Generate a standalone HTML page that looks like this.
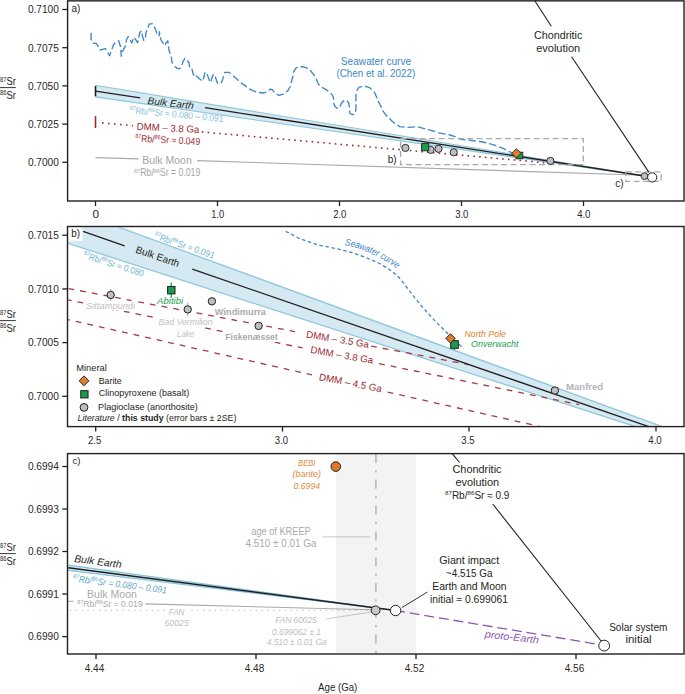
<!DOCTYPE html>
<html><head><meta charset="utf-8"><style>
html,body{margin:0;padding:0;background:#fff;}
svg{display:block;}
svg text{font-family:"Liberation Sans", sans-serif;}
</style></head><body>
<svg width="685" height="694" viewBox="0 0 685 694">
<rect width="685" height="694" fill="#fff"/>
<polygon points="95.10,85.30 644.50,176.00 95.10,96.90" fill="#d4e9f2" stroke="none" stroke-width="0"/>
<line x1="95.10" y1="85.30" x2="644.50" y2="176.00" stroke="#8cc6dc" stroke-width="1.1"/>
<line x1="95.10" y1="96.90" x2="644.50" y2="176.00" stroke="#8cc6dc" stroke-width="1.1"/>
<line x1="95.50" y1="157.60" x2="138.70" y2="158.90" stroke="#a7a9ac" stroke-width="1.1"/>
<line x1="197.10" y1="160.60" x2="644.00" y2="175.30" stroke="#a7a9ac" stroke-width="1.1"/>
<line x1="102" y1="122.9" x2="133" y2="125.7" stroke="#9d2a2f" stroke-width="1.6" stroke-dasharray="1.6 4.4"/>
<line x1="201.8" y1="131.9" x2="553" y2="163.4" stroke="#9d2a2f" stroke-width="1.6" stroke-dasharray="1.6 4.2"/>
<line x1="95.50" y1="116.20" x2="95.50" y2="128.00" stroke="#9d2a2f" stroke-width="1.6"/>
<line x1="95.50" y1="91.20" x2="140.20" y2="97.90" stroke="#231f20" stroke-width="1.3"/>
<line x1="205.00" y1="107.60" x2="644.50" y2="176.00" stroke="#231f20" stroke-width="1.3"/>
<line x1="95.50" y1="86.00" x2="95.50" y2="96.30" stroke="#231f20" stroke-width="1.6"/>
<polyline points="91.1,33.0 91.1,39.5 93.3,43.2 96.4,43.5 98.1,46.5 99.9,50.0 103.4,49.2 105.6,48.7 107.3,51.8 109.5,55.7 111.3,50.9 113.5,44.8 115.6,42.3 118.7,40.8 119.4,43.0 120.5,46.5 120.9,50.9 121.3,56.2 121.8,51.8 123.1,50.5 125.3,46.1 126.6,39.5 128.3,36.5 130.1,40.0 131.8,43.0 132.7,40.4 134.0,37.3 136.2,40.4 137.5,42.6 138.1,41.3 139.8,32.5 141.6,30.8 142.4,36.0 143.8,40.4 145.5,38.2 145.9,32.5 147.7,28.6 149.4,23.8 152.5,23.8 153.8,25.5 156.0,30.8 157.3,35.6 159.1,35.6 159.5,31.6 159.8,36.0 161.3,40.4 163.0,43.0 164.8,45.6 166.1,43.0 167.8,40.8 168.3,43.9 169.1,50.8 170.3,53.8 171.4,57.8 172.0,62.5 174.3,66.0 177.3,68.4 179.6,68.9 181.4,66.6 183.1,61.4 184.9,58.4 186.6,60.2 188.9,62.5 189.5,66.6 191.3,66.6 192.4,70.7 193.0,73.6 194.8,77.1 196.5,76.0 198.9,78.3 202.4,81.2 204.1,76.5 204.7,73.0 206.5,72.1 207.6,75.4 208.8,78.9 210.0,82.4 211.1,81.2 211.7,78.3 213.5,74.2 215.2,76.5 216.4,80.0 217.6,83.5 221.6,82.4 222.8,78.9 224.6,72.4 229.2,72.4 232.7,75.4 237.4,79.5 240.3,82.4 244.7,85.4 249.3,88.9 252.8,90.6 257.5,92.4 263.9,93.0 268.0,91.2 270.4,89.1 272.7,90.0 275.0,93.5 279.1,95.3 283.2,94.1 287.9,90.6 290.2,86.5 292.0,79.5 293.1,76.0 293.7,71.4 296.1,67.8 300.7,66.7 302.5,66.7 306.6,67.8 310.1,70.2 314.2,75.4 316.5,79.5 318.5,84.3 322.0,87.3 326.1,89.6 330.2,92.5 332.5,95.4 333.5,97.8 333.5,102.4 334.9,106.5 337.2,108.3 339.5,107.7 341.9,102.4 344.8,100.1 347.7,101.3 348.9,103.6 349.5,108.3 350.0,113.5 352.4,114.7 354.7,114.1 355.9,109.5 355.9,104.2 355.9,98.9 355.9,95.4 356.5,91.4 358.8,87.3 361.7,86.7 365.8,86.4 369.9,87.8 374.6,92.5 376.3,96.6 378.6,101.9 381.0,106.5 382.7,110.6 386.2,115.3 389.7,118.8 392.7,121.7 399.7,126.7 408.5,127.4 417.2,126.7 428.2,129.6 439.1,132.8 450.0,135.0 456.6,137.2 461.0,139.4 472.0,140.5 482.9,142.0 493.9,144.9 502.6,148.2 511.4,152.6 515.0,154.0" fill="none" stroke="#3b87c8" stroke-width="1.35" stroke-dasharray="7.5 3" stroke-linejoin="round"/>
<rect x="400.6" y="138.7" width="182.7" height="26" fill="none" stroke="#a7a9ac" stroke-width="1.3" stroke-dasharray="6 3.5"/>
<rect x="625.8" y="171.8" width="35.4" height="9.6" fill="none" stroke="#a7a9ac" stroke-width="1.3" stroke-dasharray="6 3.5"/>
<line x1="534.60" y1="0.50" x2="551.30" y2="26.20" stroke="#231f20" stroke-width="1.1"/>
<line x1="571.60" y1="56.70" x2="648.80" y2="172.10" stroke="#231f20" stroke-width="1.1"/>
<circle cx="405.4" cy="147.9" r="3.6" fill="#bcbec0" stroke="#231f20" stroke-width="0.9"/>
<circle cx="430.6" cy="149.9" r="3.6" fill="#bcbec0" stroke="#231f20" stroke-width="0.9"/>
<circle cx="438.5" cy="148.8" r="3.6" fill="#bcbec0" stroke="#231f20" stroke-width="0.9"/>
<circle cx="453.7" cy="152.3" r="3.6" fill="#bcbec0" stroke="#231f20" stroke-width="0.9"/>
<circle cx="550.4" cy="160.9" r="3.6" fill="#bcbec0" stroke="#231f20" stroke-width="0.9"/>
<rect x="421.59" y="143.60" width="7.2" height="7.2" fill="#1b9e4b" stroke="#231f20" stroke-width="0.9"/>
<rect x="516.20" y="152.20" width="6.6" height="6.6" fill="#1b9e4b" stroke="#231f20" stroke-width="0.9"/>
<polygon points="516.40,148.70 521.10,153.40 516.40,158.10 511.70,153.40" fill="#e07f2b" stroke="#231f20" stroke-width="0.9"/>
<circle cx="644.5" cy="176.1" r="3.4" fill="#bcbec0" stroke="#231f20" stroke-width="0.9"/>
<circle cx="652.2" cy="177.4" r="4.6" fill="#fff" stroke="#231f20" stroke-width="1"/>
<text x="71.5" y="11.8" font-size="10" fill="#231f20">a)</text>
<text x="558.2" y="38.7" font-size="10.4" text-anchor="middle" fill="#231f20" textLength="48.2" lengthAdjust="spacingAndGlyphs">Chondritic</text>
<text x="558.2" y="51.5" font-size="10.4" text-anchor="middle" fill="#231f20" textLength="44" lengthAdjust="spacingAndGlyphs">evolution</text>
<text x="376" y="64.9" font-size="10.2" text-anchor="middle" fill="#3b87c8" textLength="70.3" lengthAdjust="spacingAndGlyphs">Seawater curve</text>
<text x="375.8" y="77.4" font-size="10.2" text-anchor="middle" fill="#3b87c8" textLength="78.8" lengthAdjust="spacingAndGlyphs">(Chen et al. 2022)</text>
<text x="170.3" y="106.5" font-size="10" text-anchor="middle" fill="#231f20" font-style="italic" transform="rotate(6.4 170.3 106.5)" textLength="46.2" lengthAdjust="spacingAndGlyphs">Bulk Earth</text>
<text x="176.3" y="117.6" font-size="9.4" text-anchor="middle" fill="#86c0d8" transform="rotate(5.4 176.3 117.6)" textLength="94" lengthAdjust="spacingAndGlyphs"><tspan font-size="5.83" dy="-3.38">87</tspan><tspan dy="3.38">Rb/</tspan><tspan font-size="5.83" dy="-3.38">86</tspan><tspan dy="3.38">Sr ≈ 0.080 – 0.091</tspan></text>
<text x="167.8" y="131.4" font-size="10" text-anchor="middle" fill="#9d2a2f" transform="rotate(3 167.8 131.4)" textLength="62.8" lengthAdjust="spacingAndGlyphs">DMM – 3.8 Ga</text>
<text x="167.5" y="143.3" font-size="10" text-anchor="middle" fill="#9d2a2f" transform="rotate(2.8 167.5 143.3)" textLength="65" lengthAdjust="spacingAndGlyphs"><tspan font-size="6.2" dy="-3.6">87</tspan><tspan dy="3.6">Rb/</tspan><tspan font-size="6.2" dy="-3.6">86</tspan><tspan dy="3.6">Sr ≈ 0.049</tspan></text>
<text x="167" y="164" font-size="10.4" text-anchor="middle" fill="#a3a5a8" textLength="49.6" lengthAdjust="spacingAndGlyphs">Bulk Moon</text>
<text x="167.3" y="176.4" font-size="10" text-anchor="middle" fill="#a3a5a8" textLength="66" lengthAdjust="spacingAndGlyphs"><tspan font-size="6.2" dy="-3.6">87</tspan><tspan dy="3.6">Rb/</tspan><tspan font-size="6.2" dy="-3.6">86</tspan><tspan dy="3.6">Sr = 0.019</tspan></text>
<text x="387.8" y="163.3" font-size="10" fill="#231f20">b)</text>
<text x="615.2" y="186.8" font-size="10" fill="#231f20">c)</text>
<rect x="67.6" y="0.85" width="616.4" height="200.15" fill="none" stroke="#231f20" stroke-width="1.4"/>
<line x1="62.30" y1="9.50" x2="67.50" y2="9.50" stroke="#231f20" stroke-width="1.3"/>
<text x="58.9" y="13.3" font-size="11.2" text-anchor="end" fill="#2b2829" textLength="31" lengthAdjust="spacingAndGlyphs">0.7100</text>
<line x1="62.30" y1="47.70" x2="67.50" y2="47.70" stroke="#231f20" stroke-width="1.3"/>
<text x="58.9" y="51.5" font-size="11.2" text-anchor="end" fill="#2b2829" textLength="31" lengthAdjust="spacingAndGlyphs">0.7075</text>
<line x1="62.30" y1="85.90" x2="67.50" y2="85.90" stroke="#231f20" stroke-width="1.3"/>
<text x="58.9" y="89.7" font-size="11.2" text-anchor="end" fill="#2b2829" textLength="31" lengthAdjust="spacingAndGlyphs">0.7050</text>
<line x1="62.30" y1="124.10" x2="67.50" y2="124.10" stroke="#231f20" stroke-width="1.3"/>
<text x="58.9" y="127.89999999999999" font-size="11.2" text-anchor="end" fill="#2b2829" textLength="31" lengthAdjust="spacingAndGlyphs">0.7025</text>
<line x1="62.30" y1="162.30" x2="67.50" y2="162.30" stroke="#231f20" stroke-width="1.3"/>
<text x="58.9" y="166.10000000000002" font-size="11.2" text-anchor="end" fill="#2b2829" textLength="31" lengthAdjust="spacingAndGlyphs">0.7000</text>
<line x1="95.50" y1="201.00" x2="95.50" y2="206.00" stroke="#231f20" stroke-width="1.3"/>
<text x="95.8" y="218" font-size="11.2" text-anchor="middle" fill="#2b2829" textLength="6.6" lengthAdjust="spacingAndGlyphs">0</text>
<line x1="217.50" y1="201.00" x2="217.50" y2="206.00" stroke="#231f20" stroke-width="1.3"/>
<text x="217.8" y="218" font-size="11.2" text-anchor="middle" fill="#2b2829" textLength="13" lengthAdjust="spacingAndGlyphs">1.0</text>
<line x1="339.50" y1="201.00" x2="339.50" y2="206.00" stroke="#231f20" stroke-width="1.3"/>
<text x="339.8" y="218" font-size="11.2" text-anchor="middle" fill="#2b2829" textLength="13.3" lengthAdjust="spacingAndGlyphs">2.0</text>
<line x1="461.50" y1="201.00" x2="461.50" y2="206.00" stroke="#231f20" stroke-width="1.3"/>
<text x="461.8" y="218" font-size="11.2" text-anchor="middle" fill="#2b2829" textLength="13.3" lengthAdjust="spacingAndGlyphs">3.0</text>
<line x1="583.50" y1="201.00" x2="583.50" y2="206.00" stroke="#231f20" stroke-width="1.3"/>
<text x="583.8" y="218" font-size="11.2" text-anchor="middle" fill="#2b2829" textLength="13.3" lengthAdjust="spacingAndGlyphs">4.0</text>
<text x="0" y="85.39999999999999" font-size="10.6" fill="#231f20" textLength="15.9" lengthAdjust="spacingAndGlyphs"><tspan font-size="6.6" dy="-3.7">87</tspan><tspan dy="3.7">Sr</tspan></text>
<line x1="0.00" y1="87.60" x2="15.80" y2="87.60" stroke="#231f20" stroke-width="0.9"/>
<text x="0" y="98.69999999999999" font-size="10.6" fill="#231f20" textLength="15.9" lengthAdjust="spacingAndGlyphs"><tspan font-size="6.6" dy="-3.7">86</tspan><tspan dy="3.7">Sr</tspan></text>
<clipPath id="cb"><rect x="68.2" y="227.2" width="615.1" height="198.7"/></clipPath>
<g clip-path="url(#cb)">
<polygon points="60.00,205.58 700.00,440.46 700.00,447.45 60.00,240.73" fill="#d4e9f2" stroke="none" stroke-width="0"/>
<line x1="60.00" y1="205.58" x2="700.00" y2="440.46" stroke="#8cc6dc" stroke-width="1.25"/>
<line x1="60.00" y1="240.73" x2="700.00" y2="447.45" stroke="#8cc6dc" stroke-width="1.25"/>
</g>
<rect x="68.2" y="227.2" width="14.3" height="13.6" fill="#fff"/>
<text x="71.2" y="237.0" font-size="10" fill="#231f20">b)</text>
<line x1="68.2" y1="288.49" x2="295" y2="331.58" stroke="#a53a3f" stroke-width="1.3" stroke-dasharray="5.8 6.05" stroke-dashoffset="11.58"/>
<line x1="369" y1="345.64" x2="468.5" y2="364.54" stroke="#a53a3f" stroke-width="1.3" stroke-dasharray="5.8 6.05" stroke-dashoffset="9.71"/>
<line x1="68.2" y1="299.88" x2="302.5" y2="347.91" stroke="#a53a3f" stroke-width="1.3" stroke-dasharray="5.8 6.04" stroke-dashoffset="2.35"/>
<line x1="375" y1="362.77" x2="579" y2="404.59" stroke="#a53a3f" stroke-width="1.3" stroke-dasharray="5.8 6.04" stroke-dashoffset="7.66"/>
<line x1="68.2" y1="319.66" x2="312" y2="374.91" stroke="#a53a3f" stroke-width="1.3" stroke-dasharray="5.8 6.04" stroke-dashoffset="4.05"/>
<line x1="383" y1="391.00" x2="539.5" y2="426.46" stroke="#a53a3f" stroke-width="1.3" stroke-dasharray="5.8 6.04" stroke-dashoffset="7.07"/>
<line x1="83.10" y1="231.42" x2="124.70" y2="245.77" stroke="#231f20" stroke-width="1.3"/>
<line x1="192.30" y1="269.09" x2="648.80" y2="426.59" stroke="#231f20" stroke-width="1.3"/>
<polyline points="285.7,231.3 299.0,238.3 318.0,245.0 337.0,248.8 352.1,252.6 365.4,257.3 378.7,263.0 388.2,268.7 395.8,274.4 399.6,278.2 410.1,291.7 421.8,306.3 433.5,319.4 445.2,331.1 449.6,335.5 455.0,341.0 463.8,348.2" fill="none" stroke="#3b87c8" stroke-width="1.3" stroke-dasharray="3.5 2.6"/>
<text x="156.5" y="259.8" font-size="10" text-anchor="middle" fill="#231f20" transform="rotate(18.8 156.5 259.8)" textLength="45.5" lengthAdjust="spacingAndGlyphs">Bulk Earth</text>
<text x="183.5" y="248.5" font-size="9.4" text-anchor="middle" fill="#74b4d2" transform="rotate(18.9 183.5 248.5)" textLength="63" lengthAdjust="spacingAndGlyphs"><tspan font-size="5.83" dy="-3.38">87</tspan><tspan dy="3.38">Rb/</tspan><tspan font-size="5.83" dy="-3.38">86</tspan><tspan dy="3.38">Sr ≈ 0.091</tspan></text>
<text x="112.8" y="267.3" font-size="9.4" text-anchor="middle" fill="#74b4d2" transform="rotate(17.9 112.8 267.3)" textLength="63" lengthAdjust="spacingAndGlyphs"><tspan font-size="5.83" dy="-3.38">87</tspan><tspan dy="3.38">Rb/</tspan><tspan font-size="5.83" dy="-3.38">86</tspan><tspan dy="3.38">Sr ≈ 0.080</tspan></text>
<path id="swp" d="M 344.5 245 Q 373 250.5 399.5 270.5" fill="none"/>
<text font-size="9.6" font-style="italic" fill="#3b87c8"><textPath href="#swp" textLength="58" lengthAdjust="spacingAndGlyphs">Seawater curve</textPath></text>
<text x="337" y="342.6" font-size="9.8" text-anchor="middle" fill="#9d2a2f" transform="rotate(9.4 337 342.6)" textLength="63.5" lengthAdjust="spacingAndGlyphs">DMM – 3.5 Ga</text>
<text x="341.3" y="358.3" font-size="9.8" text-anchor="middle" fill="#9d2a2f" transform="rotate(10 341.3 358.3)" textLength="63.5" lengthAdjust="spacingAndGlyphs">DMM – 3.8 Ga</text>
<text x="349.8" y="386.1" font-size="9.8" text-anchor="middle" fill="#9d2a2f" transform="rotate(11.2 349.8 386.1)" textLength="64" lengthAdjust="spacingAndGlyphs">DMM – 4.5 Ga</text>
<text x="86.1" y="308.6" font-size="9.6" fill="#c0c2c4" font-style="italic" textLength="49" lengthAdjust="spacingAndGlyphs" stroke="#fff" stroke-width="3.5" paint-order="stroke" stroke-linejoin="round">Sittampundi</text>
<rect x="158" y="317" width="55" height="10" fill="#fff"/>
<text x="158.5" y="325.2" font-size="9.6" fill="#c0c2c4" font-style="italic" textLength="54" lengthAdjust="spacingAndGlyphs" stroke="#fff" stroke-width="4.5" paint-order="stroke" stroke-linejoin="round">Bad Vermilion</text>
<text x="185.6" y="337.3" font-size="9.6" text-anchor="middle" fill="#c0c2c4" font-style="italic" textLength="17" lengthAdjust="spacingAndGlyphs" stroke="#fff" stroke-width="3.5" paint-order="stroke" stroke-linejoin="round">Lake</text>
<text x="214.8" y="315" font-size="9.4" fill="#a8aaad" font-weight="bold" textLength="51.2" lengthAdjust="spacingAndGlyphs" stroke="#fff" stroke-width="3.5" paint-order="stroke" stroke-linejoin="round">Windimurra</text>
<text x="225.3" y="339.6" font-size="9.4" fill="#a8aaad" font-weight="bold" textLength="52.4" lengthAdjust="spacingAndGlyphs" stroke="#fff" stroke-width="4" paint-order="stroke" stroke-linejoin="round">Fiskenæsset</text>
<text x="566" y="389.6" font-size="9.4" fill="#b3b5b7" font-weight="bold" textLength="37.2" lengthAdjust="spacingAndGlyphs">Manfred</text>
<text x="157.1" y="304.2" font-size="9.6" fill="#1b9e4b" font-style="italic" textLength="26" lengthAdjust="spacingAndGlyphs" stroke="#fff" stroke-width="2" paint-order="stroke" stroke-linejoin="round">Abitibi</text>
<text x="464.4" y="337" font-size="9.6" fill="#e07f2b" font-style="italic" textLength="41.6" lengthAdjust="spacingAndGlyphs">North Pole</text>
<text x="471.1" y="346.6" font-size="9.6" fill="#1b9e4b" font-style="italic" textLength="47.4" lengthAdjust="spacingAndGlyphs">Onverwacht</text>
<line x1="110.70" y1="289.10" x2="110.70" y2="300.70" stroke="#b5b7b9" stroke-width="1.3"/>
<circle cx="110.7" cy="294.9" r="3.7" fill="#bcbec0" stroke="#231f20" stroke-width="1"/>
<line x1="187.70" y1="302.80" x2="187.70" y2="315.90" stroke="#b5b7b9" stroke-width="1.3"/>
<circle cx="187.7" cy="309.4" r="3.7" fill="#bcbec0" stroke="#231f20" stroke-width="1"/>
<circle cx="211.9" cy="301.3" r="3.7" fill="#bcbec0" stroke="#231f20" stroke-width="1"/>
<circle cx="258.6" cy="325.9" r="3.7" fill="#bcbec0" stroke="#231f20" stroke-width="1"/>
<circle cx="554.9" cy="390.5" r="3.7" fill="#bcbec0" stroke="#231f20" stroke-width="1"/>
<line x1="171.30" y1="282.60" x2="171.30" y2="297.50" stroke="#1b9e4b" stroke-width="1.3"/>
<rect x="167.60" y="286.50" width="7.4" height="7.4" fill="#1b9e4b" stroke="#231f20" stroke-width="1"/>
<line x1="454.50" y1="341.00" x2="454.50" y2="350.30" stroke="#1b9e4b" stroke-width="1.3"/>
<rect x="450.70" y="340.70" width="7.6" height="7.6" fill="#1b9e4b" stroke="#231f20" stroke-width="1"/>
<polygon points="450.50,333.70 455.20,338.40 450.50,343.10 445.80,338.40" fill="#e07f2b" stroke="#231f20" stroke-width="1"/>
<text x="76.2" y="370.6" font-size="9.6" fill="#231f20" textLength="30.6" lengthAdjust="spacingAndGlyphs">Mineral</text>
<polygon points="84.00,375.90 88.90,380.80 84.00,385.70 79.10,380.80" fill="#e07f2b" stroke="#231f20" stroke-width="1"/>
<text x="98.7" y="383.5" font-size="9.6" fill="#231f20" textLength="23" lengthAdjust="spacingAndGlyphs">Barite</text>
<rect x="80.75" y="390.65" width="7.3" height="7.3" fill="#1b9e4b" stroke="#231f20" stroke-width="1"/>
<text x="98.7" y="396.4" font-size="9.6" fill="#231f20" textLength="90.5" lengthAdjust="spacingAndGlyphs">Clinopyroxene (basalt)</text>
<circle cx="84" cy="407.4" r="3.9" fill="#bcbec0" stroke="#231f20" stroke-width="1"/>
<text x="98.1" y="409.7" font-size="9.6" fill="#231f20" textLength="99.8" lengthAdjust="spacingAndGlyphs">Plagioclase (anorthosite)</text>
<text x="77.6" y="421.3" font-size="9.6" fill="#231f20" textLength="158.8" lengthAdjust="spacingAndGlyphs"><tspan font-style="italic">Literature</tspan> / <tspan font-weight="bold">this study</tspan> (error bars ± 2SE)</text>
<rect x="67.5" y="226.5" width="616.5" height="200.10000000000002" fill="none" stroke="#231f20" stroke-width="1.4"/>
<line x1="62.30" y1="235.20" x2="67.50" y2="235.20" stroke="#231f20" stroke-width="1.3"/>
<text x="58.9" y="239.0" font-size="11.2" text-anchor="end" fill="#2b2829" textLength="31" lengthAdjust="spacingAndGlyphs">0.7015</text>
<line x1="62.30" y1="288.90" x2="67.50" y2="288.90" stroke="#231f20" stroke-width="1.3"/>
<text x="58.9" y="292.7" font-size="11.2" text-anchor="end" fill="#2b2829" textLength="31" lengthAdjust="spacingAndGlyphs">0.7010</text>
<line x1="62.30" y1="342.60" x2="67.50" y2="342.60" stroke="#231f20" stroke-width="1.3"/>
<text x="58.9" y="346.40000000000003" font-size="11.2" text-anchor="end" fill="#2b2829" textLength="31" lengthAdjust="spacingAndGlyphs">0.7005</text>
<line x1="62.30" y1="396.30" x2="67.50" y2="396.30" stroke="#231f20" stroke-width="1.3"/>
<text x="58.9" y="400.1" font-size="11.2" text-anchor="end" fill="#2b2829" textLength="31" lengthAdjust="spacingAndGlyphs">0.7000</text>
<line x1="95.70" y1="426.60" x2="95.70" y2="431.60" stroke="#231f20" stroke-width="1.3"/>
<text x="94.7" y="443.7" font-size="11.2" text-anchor="middle" fill="#2b2829" textLength="13.3" lengthAdjust="spacingAndGlyphs">2.5</text>
<line x1="282.50" y1="426.60" x2="282.50" y2="431.60" stroke="#231f20" stroke-width="1.3"/>
<text x="281.5" y="443.7" font-size="11.2" text-anchor="middle" fill="#2b2829" textLength="13.3" lengthAdjust="spacingAndGlyphs">3.0</text>
<line x1="469.00" y1="426.60" x2="469.00" y2="431.60" stroke="#231f20" stroke-width="1.3"/>
<text x="468" y="443.7" font-size="11.2" text-anchor="middle" fill="#2b2829" textLength="13.3" lengthAdjust="spacingAndGlyphs">3.5</text>
<line x1="656.00" y1="426.60" x2="656.00" y2="431.60" stroke="#231f20" stroke-width="1.3"/>
<text x="655" y="443.7" font-size="11.2" text-anchor="middle" fill="#2b2829" textLength="13.3" lengthAdjust="spacingAndGlyphs">4.0</text>
<text x="0" y="318.40000000000003" font-size="10.6" fill="#231f20" textLength="15.9" lengthAdjust="spacingAndGlyphs"><tspan font-size="6.6" dy="-3.7">87</tspan><tspan dy="3.7">Sr</tspan></text>
<line x1="0.00" y1="320.60" x2="15.80" y2="320.60" stroke="#231f20" stroke-width="0.9"/>
<text x="0" y="331.70000000000005" font-size="10.6" fill="#231f20" textLength="15.9" lengthAdjust="spacingAndGlyphs"><tspan font-size="6.6" dy="-3.7">86</tspan><tspan dy="3.7">Sr</tspan></text>
<rect x="336" y="454.3" width="80" height="199" fill="#f3f3f3"/>
<line x1="375.9" y1="454" x2="375.9" y2="653.5" stroke="#bdbfc1" stroke-width="1.8" stroke-dasharray="9 7.2 2.3 7.3"/>
<line x1="70" y1="610.4" x2="167" y2="610.4" stroke="#c2c4c6" stroke-width="1.2" stroke-dasharray="1.2 4.64"/>
<line x1="191.5" y1="610.4" x2="370" y2="610.4" stroke="#c2c4c6" stroke-width="1.2" stroke-dasharray="1.2 4.64"/>
<polygon points="68.20,565.10 395.60,610.50 68.20,570.40" fill="#d4e9f2" stroke="none" stroke-width="0"/>
<line x1="68.20" y1="565.10" x2="395.60" y2="610.50" stroke="#86c3dc" stroke-width="1.1"/>
<line x1="68.20" y1="570.40" x2="395.60" y2="610.50" stroke="#86c3dc" stroke-width="1.1"/>
<line x1="68.20" y1="601.20" x2="73.60" y2="601.30" stroke="#a7a9ac" stroke-width="1.1"/>
<line x1="145.30" y1="603.90" x2="372.00" y2="609.80" stroke="#a7a9ac" stroke-width="1.1"/>
<line x1="68.20" y1="567.80" x2="395.60" y2="610.50" stroke="#231f20" stroke-width="1.4"/>
<line x1="401" y1="611.5" x2="598.5" y2="644.4" stroke="#8b55b3" stroke-width="1.3" stroke-dasharray="10 4.8" stroke-dashoffset="6"/>
<line x1="452.30" y1="453.60" x2="459.50" y2="462.50" stroke="#231f20" stroke-width="1.1"/>
<line x1="492.70" y1="504.00" x2="601.50" y2="641.50" stroke="#231f20" stroke-width="1.1"/>
<line x1="402.00" y1="607.50" x2="427.40" y2="592.00" stroke="#231f20" stroke-width="0.9"/>
<line x1="326.60" y1="618.80" x2="371.50" y2="612.00" stroke="#b5b7b9" stroke-width="0.8"/>
<line x1="322.30" y1="536.90" x2="370.20" y2="536.90" stroke="#b5b7b9" stroke-width="0.8"/>
<circle cx="375.6" cy="610.3" r="4.4" fill="#c8cacc" stroke="#231f20" stroke-width="1"/>
<circle cx="395.6" cy="610.5" r="5.2" fill="#fff" stroke="#231f20" stroke-width="1"/>
<circle cx="604.2" cy="645.6" r="5.4" fill="#fff" stroke="#231f20" stroke-width="1"/>
<circle cx="335.8" cy="466.6" r="4.8" fill="#dc7a27" stroke="#231f20" stroke-width="1"/>
<text x="72.5" y="463.8" font-size="9.5" fill="#231f20">c)</text>
<text x="306.8" y="466.2" font-size="9.4" text-anchor="middle" fill="#e28a3e" font-style="italic" textLength="17.4" lengthAdjust="spacingAndGlyphs">BEBI</text>
<text x="306.8" y="476.6" font-size="9.4" text-anchor="middle" fill="#e28a3e" font-style="italic" textLength="28.6" lengthAdjust="spacingAndGlyphs">(barite)</text>
<text x="306.8" y="488.7" font-size="9.4" text-anchor="middle" fill="#e28a3e" font-style="italic" textLength="26.6" lengthAdjust="spacingAndGlyphs">0.6994</text>
<text x="281" y="534.5" font-size="10.2" text-anchor="middle" fill="#a8aaad" textLength="59.4" lengthAdjust="spacingAndGlyphs">age of KREEP</text>
<text x="281" y="547.3" font-size="10.2" text-anchor="middle" fill="#a8aaad" textLength="70.9" lengthAdjust="spacingAndGlyphs">4.510 ± 0.01 Ga</text>
<text x="477" y="472.5" font-size="10.2" text-anchor="middle" fill="#231f20" textLength="49" lengthAdjust="spacingAndGlyphs">Chondritic</text>
<text x="477.3" y="485.7" font-size="10.2" text-anchor="middle" fill="#231f20" textLength="43.7" lengthAdjust="spacingAndGlyphs">evolution</text>
<text x="477.2" y="498.8" font-size="10" text-anchor="middle" fill="#231f20" textLength="64.4" lengthAdjust="spacingAndGlyphs"><tspan font-size="6.2" dy="-3.6">87</tspan><tspan dy="3.6">Rb/</tspan><tspan font-size="6.2" dy="-3.6">86</tspan><tspan dy="3.6">Sr ≈ 0.9</tspan></text>
<text x="469.2" y="563.7" font-size="10.2" text-anchor="middle" fill="#231f20" textLength="60" lengthAdjust="spacingAndGlyphs">Giant impact</text>
<text x="469.2" y="576.6" font-size="10.2" text-anchor="middle" fill="#231f20" textLength="46.7" lengthAdjust="spacingAndGlyphs">~4.515 Ga</text>
<text x="469.4" y="590" font-size="10.2" text-anchor="middle" fill="#231f20" textLength="74.4" lengthAdjust="spacingAndGlyphs">Earth and Moon</text>
<text x="469" y="602.9" font-size="10.2" text-anchor="middle" fill="#231f20" textLength="77.9" lengthAdjust="spacingAndGlyphs">initial ≈ 0.699061</text>
<text x="638.3" y="631.4" font-size="10.2" text-anchor="middle" fill="#231f20" textLength="58.3" lengthAdjust="spacingAndGlyphs">Solar system</text>
<text x="638.5" y="643.4" font-size="10.2" text-anchor="middle" fill="#231f20" textLength="26.2" lengthAdjust="spacingAndGlyphs">initial</text>
<text x="511.5" y="640.4" font-size="10" text-anchor="middle" fill="#8b55b3" font-style="italic" transform="rotate(6.5 511.5 640.4)" textLength="54.5" lengthAdjust="spacingAndGlyphs" stroke="#fff" stroke-width="2" paint-order="stroke" stroke-linejoin="round">proto-Earth</text>
<text x="97.5" y="565" font-size="10.2" text-anchor="middle" fill="#231f20" font-style="italic" transform="rotate(7.3 97.5 565)" textLength="47.5" lengthAdjust="spacingAndGlyphs">Bulk Earth</text>
<text x="119.5" y="587.5" font-size="9.6" font-style="italic" text-anchor="middle" fill="#5fa9cb" transform="rotate(7.3 119.5 587.5)" textLength="94.5" lengthAdjust="spacingAndGlyphs"><tspan font-size="5.95" dy="-3.46">87</tspan><tspan dy="3.46">Rb/</tspan><tspan font-size="5.95" dy="-3.46">86</tspan><tspan dy="3.46">Sr = 0.080 – 0.091</tspan></text>
<text x="112" y="598.2" font-size="10.3" text-anchor="middle" fill="#a7a9ac" textLength="49.8" lengthAdjust="spacingAndGlyphs">Bulk Moon</text>
<text x="110" y="607.3" font-size="9.6" text-anchor="middle" fill="#a7a9ac" textLength="65.4" lengthAdjust="spacingAndGlyphs"><tspan font-size="5.95" dy="-3.46">87</tspan><tspan dy="3.46">Rb/</tspan><tspan font-size="5.95" dy="-3.46">86</tspan><tspan dy="3.46">Sr = 0.019</tspan></text>
<text x="176.6" y="614.8" font-size="9.2" text-anchor="middle" fill="#bcbec0" font-style="italic" textLength="15.6" lengthAdjust="spacingAndGlyphs">FAN</text>
<text x="176.6" y="625.8" font-size="9.2" text-anchor="middle" fill="#bcbec0" font-style="italic" textLength="24.4" lengthAdjust="spacingAndGlyphs">60025</text>
<text x="296" y="622.6" font-size="9.2" text-anchor="middle" fill="#bcbec0" font-style="italic" textLength="41.5" lengthAdjust="spacingAndGlyphs">FAN 60025</text>
<text x="296.5" y="634.5" font-size="9.2" text-anchor="middle" fill="#bcbec0" font-style="italic" textLength="49" lengthAdjust="spacingAndGlyphs">0.699062 ± 1</text>
<text x="296.7" y="645.3" font-size="9.2" text-anchor="middle" fill="#bcbec0" font-style="italic" textLength="60" lengthAdjust="spacingAndGlyphs">4.510 ± 0.01 Ga</text>
<rect x="67.5" y="453.6" width="616.5" height="200.39999999999998" fill="none" stroke="#231f20" stroke-width="1.4"/>
<line x1="62.30" y1="466.50" x2="67.50" y2="466.50" stroke="#231f20" stroke-width="1.3"/>
<text x="58.9" y="470.3" font-size="11.2" text-anchor="end" fill="#2b2829" textLength="31" lengthAdjust="spacingAndGlyphs">0.6994</text>
<line x1="62.30" y1="509.00" x2="67.50" y2="509.00" stroke="#231f20" stroke-width="1.3"/>
<text x="58.9" y="512.8" font-size="11.2" text-anchor="end" fill="#2b2829" textLength="31" lengthAdjust="spacingAndGlyphs">0.6993</text>
<line x1="62.30" y1="551.50" x2="67.50" y2="551.50" stroke="#231f20" stroke-width="1.3"/>
<text x="58.9" y="555.3" font-size="11.2" text-anchor="end" fill="#2b2829" textLength="31" lengthAdjust="spacingAndGlyphs">0.6992</text>
<line x1="62.30" y1="594.00" x2="67.50" y2="594.00" stroke="#231f20" stroke-width="1.3"/>
<text x="58.9" y="597.8" font-size="11.2" text-anchor="end" fill="#2b2829" textLength="31" lengthAdjust="spacingAndGlyphs">0.6991</text>
<line x1="62.30" y1="636.60" x2="67.50" y2="636.60" stroke="#231f20" stroke-width="1.3"/>
<text x="58.9" y="640.4" font-size="11.2" text-anchor="end" fill="#2b2829" textLength="31" lengthAdjust="spacingAndGlyphs">0.6990</text>
<line x1="96.00" y1="654.00" x2="96.00" y2="659.00" stroke="#231f20" stroke-width="1.3"/>
<text x="94.5" y="671.7" font-size="11.2" text-anchor="middle" fill="#2b2829" textLength="19.6" lengthAdjust="spacingAndGlyphs">4.44</text>
<line x1="256.00" y1="654.00" x2="256.00" y2="659.00" stroke="#231f20" stroke-width="1.3"/>
<text x="254.5" y="671.7" font-size="11.2" text-anchor="middle" fill="#2b2829" textLength="19.6" lengthAdjust="spacingAndGlyphs">4.48</text>
<line x1="416.00" y1="654.00" x2="416.00" y2="659.00" stroke="#231f20" stroke-width="1.3"/>
<text x="414.5" y="671.7" font-size="11.2" text-anchor="middle" fill="#2b2829" textLength="19.6" lengthAdjust="spacingAndGlyphs">4.52</text>
<line x1="576.00" y1="654.00" x2="576.00" y2="659.00" stroke="#231f20" stroke-width="1.3"/>
<text x="574.5" y="671.7" font-size="11.2" text-anchor="middle" fill="#2b2829" textLength="19.6" lengthAdjust="spacingAndGlyphs">4.56</text>
<text x="0" y="551.4" font-size="10.6" fill="#231f20" textLength="15.9" lengthAdjust="spacingAndGlyphs"><tspan font-size="6.6" dy="-3.7">87</tspan><tspan dy="3.7">Sr</tspan></text>
<line x1="0.00" y1="553.60" x2="15.80" y2="553.60" stroke="#231f20" stroke-width="0.9"/>
<text x="0" y="564.7" font-size="10.6" fill="#231f20" textLength="15.9" lengthAdjust="spacingAndGlyphs"><tspan font-size="6.6" dy="-3.7">86</tspan><tspan dy="3.7">Sr</tspan></text>
<text x="337.7" y="691.2" font-size="10.4" text-anchor="middle" fill="#231f20" textLength="39.2" lengthAdjust="spacingAndGlyphs">Age (Ga)</text>
</svg>
</body></html>
